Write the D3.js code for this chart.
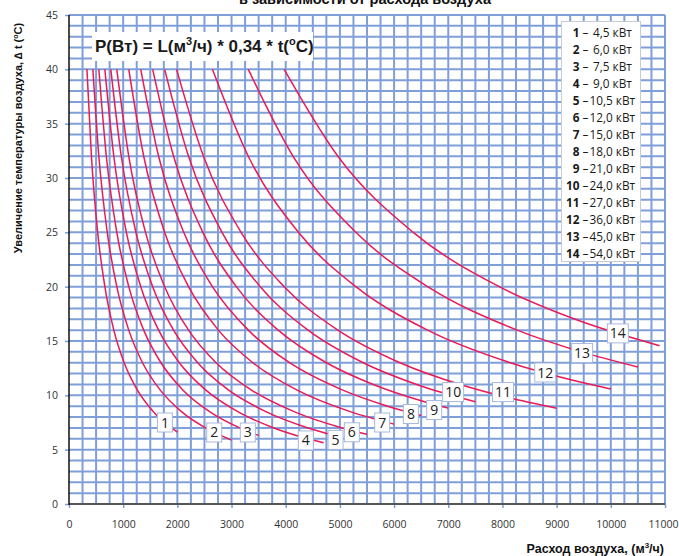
<!DOCTYPE html>
<html><head><meta charset="utf-8">
<script src="https://cdn.jsdelivr.net/npm/d3@7"></script>
<style>
html,body{margin:0;padding:0;background:#fff;}
svg{display:block;}
</style></head>
<body>
<svg id="chart" width="679" height="556"></svg>
<script>
// ---- data ----
const titleText = "в зависимости от расхода воздуха";
const formulaText = ["P(Вт) = L(м", "3", "/ч) * 0,34 * t(", "o", "C)"];
const xTicks = [0,1000,2000,3000,4000,5000,6000,7000,8000,9000,10000,11000];
const yTicks = [0,5,10,15,20,25,30,35,40,45];
const curveIds = ["1","2","3","4","5","6","7","8","9","10","11","12","13","14"];
const powerLabels = ["4,5","6,0","7,5","9,0","10,5","12,0","15,0","18,0","21,0","24,0","27,0","36,0","45,0","54,0"];
// points [L (m3/h), t (°C)]
const curve1  = [[331,40],[414,32],[529,25],[662,20],[827,16],[1018,13],[1260,10.5],[1557,8.5],[1891,7],[2000,6.62]];
const curve2  = [[441,40],[551,32],[706,25],[882,20],[1103,16],[1357,13],[1681,10.5],[2076,8.5],[2521,7],[3000,5.88]];
const curve3  = [[551,40],[689,32],[882,25],[1103,20],[1379,16],[1697,13],[2101,10.5],[2595,8.5],[3151,7],[3500,6.30]];
const curve4  = [[662,40],[827,32],[1059,25],[1324,20],[1654,16],[2036,13],[2521,10.5],[3114,8.5],[3782,7],[4412,6],[4700,5.63]];
const curve5  = [[772,40],[965,32],[1235,25],[1544,20],[1930,16],[2376,13],[2941,10.5],[3633,8.5],[4412,7],[4900,6.30]];
const curve6  = [[882,40],[1103,32],[1412,25],[1765,20],[2206,16],[2715,13],[3361,10.5],[4152,8.5],[5042,7],[5500,6.42]];
const curve7  = [[1103,40],[1379,32],[1765,25],[2206,20],[2757,16],[3394,13],[4202,10.5],[5190,8.5],[6000,7.35]];
const curve8  = [[1324,40],[1654,32],[2118,25],[2647,20],[3309,16],[4072,13],[5042,10.5],[5882,9],[6500,8.14]];
const curve9  = [[1544,40],[1930,32],[2471,25],[3088,20],[3860,16],[4751,13],[5615,11],[6502,9.5],[7000,8.82]];
const curve10 = [[1765,40],[2206,32],[2824,25],[3529,20],[4412,16],[5430,13],[6417,11],[7500,9.41]];
const curve11 = [[1985,40],[2482,32],[3176,25],[3971,20],[4963,16],[6109,13],[7219,11],[8103,9.8],[9000,8.82]];
const curve12 = [[2647,40],[3309,32],[4235,25],[5294,20],[6618,16],[8145,13],[9207,11.5],[10000,10.59]];
const curve13 = [[3309,40],[4136,32],[5294,25],[6618,20],[8272,16],[9454,14],[10500,12.61]];
const curve14 = [[3971,40],[4963,32],[6353,25],[7941,20],[9343,17],[10900,14.57]];
const curves = [curve1,curve2,curve3,curve4,curve5,curve6,curve7,curve8,curve9,curve10,curve11,curve12,curve13,curve14];
// label box positions (data coords)
const labelL = [1770,2680,3300,4370,4920,5220,5780,6310,6740,7090,8010,8790,9470,10130];
const labelT = [7.5,6.58,6.58,5.85,5.9,6.6,7.5,8.28,8.65,10.3,10.3,12.1,13.9,15.7];

// ---- drawing ----
const svg = d3.select("#chart");
const x = d3.scaleLinear().domain([0,11000]).range([69,665]);
const y = d3.scaleLinear().domain([0,45]).range([504,15]);
const gridColor = "#7f9fd8";
const curveColor = "#ea1a57";

// grid
const g = svg.append("g");
g.selectAll("line.v").data(d3.range(250, 11001, 250)).join("line")
  .attr("x1", d=>x(d)).attr("x2", d=>x(d)).attr("y1", y(0)).attr("y2", y(45))
  .attr("stroke", gridColor).attr("stroke-width", 2);
g.selectAll("line.h").data(d3.range(1, 46, 1)).join("line")
  .attr("y1", d=>y(d)).attr("y2", d=>y(d)).attr("x1", x(0)).attr("x2", x(11000))
  .attr("stroke", gridColor).attr("stroke-width", 2);

// formula box
svg.append("rect").attr("x", 92).attr("y", 32).attr("width", 221).attr("height", 29).attr("fill", "#fff");
const ft = svg.append("text").attr("x", 95).attr("y", 52)
  .attr("font-family", "Liberation Sans, Arial, sans-serif").attr("font-weight", "bold")
  .attr("font-size", 17).attr("fill", "#1a1a1a");
ft.append("tspan").text(formulaText[0]);
ft.append("tspan").text(formulaText[1]).attr("font-size", 11).attr("dy", -7);
ft.append("tspan").text(formulaText[2]).attr("dy", 7);
ft.append("tspan").text(formulaText[3]).attr("font-size", 11).attr("dy", -7);
ft.append("tspan").text(formulaText[4]).attr("dy", 7);

// legend box
const lg = svg.append("g");
lg.append("rect").attr("x", 561.5).attr("y", 21.5).attr("width", 79).attr("height", 240)
  .attr("fill", "#fff").attr("stroke", "#c5cbd8").attr("stroke-width", 1);
curveIds.forEach((id, i) => {
  const yy = 37 + i*17;
  const font = "Open Sans, sans-serif";
  lg.append("text").attr("x", 579.5).attr("y", yy).attr("text-anchor", "end")
    .attr("font-family", font).attr("font-size", 11.8).attr("font-weight", "bold").attr("fill", "#1a1a1a").text(id);
  lg.append("text").attr("x", 582.5).attr("y", yy)
    .attr("font-family", font).attr("font-size", 11.8).attr("fill", "#1a1a1a").text("–");
  lg.append("text").attr("x", powerLabels[i].length > 3 ? 589.5 : 593).attr("y", yy)
    .attr("font-family", font).attr("font-size", 11.8).attr("fill", "#1a1a1a").text(powerLabels[i] + " кВт");
});

// curves
const line = d3.line().x(d=>x(d[0])).y(d=>y(d[1])).curve(d3.curveMonotoneX);
svg.append("g").selectAll("path").data(curves).join("path")
  .attr("d", line).attr("fill", "none").attr("stroke", curveColor).attr("stroke-width", 1.5);

// curve labels
const lb = svg.append("g").selectAll("g").data(curveIds).join("g")
  .attr("transform", (d,i) => `translate(${x(labelL[i])},${y(labelT[i])})`);
lb.append("rect")
  .attr("x", d => d.length > 1 ? -10.5 : -7.5).attr("y", -9.5)
  .attr("width", d => d.length > 1 ? 21 : 15).attr("height", 19)
  .attr("fill", "#fff").attr("stroke", "#a8b8dc").attr("stroke-width", 1);
lb.append("text").text(d=>d).attr("text-anchor", "middle").attr("y", 5)
  .attr("font-family", "Open Sans, sans-serif").attr("font-size", 14).attr("fill", "#222");

// axes
const xAxis = d3.axisBottom(x).tickValues(xTicks).tickSize(4).tickFormat(d3.format("d"));
const yAxis = d3.axisLeft(y).tickValues(yTicks).tickSize(4).tickFormat(d3.format("d"));
const gx = svg.append("g").attr("transform", `translate(0,${y(0)})`).call(xAxis);
const gy = svg.append("g").attr("transform", `translate(${x(0)},0)`).call(yAxis);
[gx, gy].forEach(a => {
  a.select(".domain").remove();
  a.selectAll(".tick line").attr("stroke", gridColor).attr("stroke-width", 1.5);
  a.selectAll(".tick text").attr("font-family", "Open Sans, sans-serif").attr("font-size", 10.5).attr("fill", "#333");
});
gx.selectAll(".tick text").attr("dy", "1.6em");
gx.selectAll(".tick text").filter(d => d === 11000).attr("text-anchor", "end").attr("x", 13);
gy.selectAll(".tick text").attr("x", -11);
svg.append("line").attr("x1", x(0)).attr("x2", x(11000)).attr("y1", y(0)).attr("y2", y(0))
  .attr("stroke", "#555").attr("stroke-width", 2);
svg.append("line").attr("x1", x(0)).attr("x2", x(0)).attr("y1", y(0)+1).attr("y2", y(45))
  .attr("stroke", "#111").attr("stroke-width", 1.5);

// titles
svg.append("text").attr("x", 365).attr("y", 4).attr("text-anchor", "middle")
  .attr("font-family", "Liberation Sans, Arial, sans-serif").attr("font-weight", "bold")
  .attr("font-size", 14.6).attr("fill", "#111").text(titleText);
const xt = svg.append("text").attr("x", 664).attr("y", 553).attr("text-anchor", "end")
  .attr("font-family", "Liberation Sans, Arial, sans-serif").attr("font-weight", "bold")
  .attr("font-size", 12.5).attr("fill", "#111");
xt.append("tspan").text("Расход воздуха, (м");
xt.append("tspan").text("3").attr("font-size", 8).attr("dy", -5);
xt.append("tspan").text("/ч)").attr("dy", 5);
const yt = svg.append("text").attr("transform", "translate(22,138) rotate(-90)").attr("text-anchor", "middle")
  .attr("font-family", "Liberation Sans, Arial, sans-serif").attr("font-weight", "bold")
  .attr("font-size", 11).attr("fill", "#111");
yt.append("tspan").text("Увеличение температуры воздуха,  ∆ t (");
yt.append("tspan").text("o").attr("font-size", 7).attr("dy", -4);
yt.append("tspan").text("C)").attr("dy", 4);
</script>
</body></html>
